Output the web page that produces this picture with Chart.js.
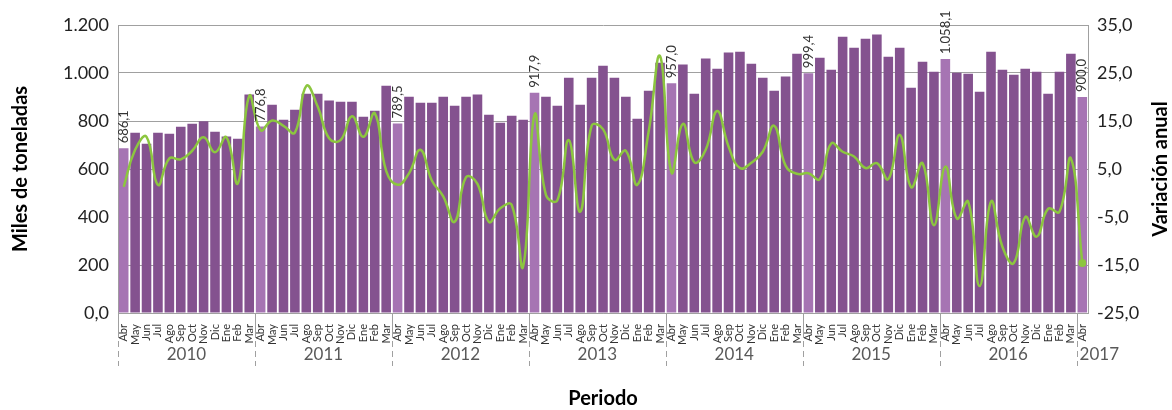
<!DOCTYPE html>
<html lang="es">
<head>
<meta charset="UTF-8">
<title>Miles de toneladas</title>
<script src="https://cdn.jsdelivr.net/npm/chart.js"></script>
<style>
  body { margin: 0; background: #fff; }
</style>
</head>
<body>
<canvas id="myChart" width="1172" height="410"></canvas>
<script>
const months = ['Abr','May','Jun','Jul','Ago','Sep','Oct','Nov','Dic','Ene','Feb','Mar']
const years = ['2010','2011','2012','2013','2014','2015','2016','2017']
const yearSpans = [12, 12, 12, 12, 12, 12, 12, 1]

// miles de toneladas, Abr 2010 .. Abr 2017
const tonnes = [
  686.1, 751, 705, 751, 747, 776, 789, 799, 755, 735, 726, 910,
  776.8, 868, 805, 847, 914, 914, 885, 880, 880, 818, 843, 947,
  789.5, 901, 876, 876, 901, 864, 901, 910, 826, 793, 822, 805,
  917.9, 901, 864, 980, 868, 980, 1030, 980, 901, 809, 926, 1043,
  957.0, 1035, 914, 1060, 1018, 1085, 1089, 1039, 980, 926, 985, 1080,
  999.4, 1064, 1014, 1151, 1105, 1143, 1160, 1068, 1105, 939, 1047, 1005,
  1058.1, 1001, 997, 922, 1089, 1014, 993, 1018, 1005, 914, 1005, 1080,
  900.0
]

// variación anual (%)
const variation = [
  1.3, 9.0, 11.7, 1.7, 7.2, 7.0, 8.8, 11.6, 8.5, 11.6, 2.0, 20.2,
  13.1, 15.1, 14.0, 12.6, 22.3, 18.0, 11.4, 11.0, 16.0, 11.7, 16.6, 4.6,
  1.7, 4.1, 9.0, 2.6, -0.7, -6.0, 3.3, 1.9, -6.0, -3.2, -2.5, -15.3,
  16.3, -0.4, -1.5, 11.0, -3.9, 14.0, 13.3, 6.9, 8.8, 1.7, 12.8, 28.5,
  4.3, 14.4, 6.4, 9.0, 17.1, 9.7, 5.2, 6.3, 8.6, 14.0, 5.7, 4.0,
  4.1, 2.9, 10.3, 8.6, 7.6, 5.2, 6.2, 2.9, 12.1, 1.2, 6.2, -6.7,
  5.5, -5.3, -1.8, -19.4, -1.8, -11.2, -14.6, -5.0, -9.1, -3.3, -3.9, 7.2,
  -14.6
]

const leftTicks = ['0,0', '200', '400', '600', '800', '1.000', '1.200']
const rightTicks = ['-25,0', '-15,0', '-5,0', '5,0', '15,0', '25,0', '35,0']

const labels = []
yearSpans.forEach(n => { for (let i = 0; i < n; i++) labels.push(months[i]) })

const FONT = 'Lato, "DejaVu Sans", sans-serif'
const dark = '#84528f'
const light = '#a674b3'
const green = '#8cc63f'
const fmt = v => v.toLocaleString('de-DE', { minimumFractionDigits: 1, maximumFractionDigits: 1 })

const extras = {
  id: 'extras',
  afterDatasetsDraw(chart) {
    const ctx = chart.ctx
    const meta = chart.getDatasetMeta(1)
    ctx.save()
    ctx.font = '13px ' + FONT
    ctx.fillStyle = '#333'
    ctx.textAlign = 'left'
    ctx.textBaseline = 'middle'
    meta.data.forEach((bar, i) => {
      if (labels[i] !== 'Abr') return
      ctx.save()
      ctx.translate(bar.x, bar.y - 5)
      ctx.rotate(-Math.PI / 2)
      ctx.fillText(fmt(tonnes[i]), 0, 0)
      ctx.restore()
    })
    ctx.restore()
  },
  afterDraw(chart) {
    const ctx = chart.ctx
    const x = chart.scales.x
    const area = chart.chartArea
    ctx.save()
    ctx.strokeStyle = '#a0a0a0'
    ctx.lineWidth = 1
    ctx.fillStyle = '#595959'
    ctx.font = '17px ' + FONT
    ctx.textBaseline = 'middle'
    let start = 0
    yearSpans.forEach((n, k) => {
      const left = start === 0 ? area.left : (x.getPixelForValue(start - 1) + x.getPixelForValue(start)) / 2
      const right = start + n >= labels.length ? area.right : (x.getPixelForValue(start + n - 1) + x.getPixelForValue(start + n)) / 2
      const sx = Math.round(left) + 0.5
      ctx.setLineDash([])
      ctx.beginPath()
      ctx.moveTo(sx, area.bottom)
      ctx.lineTo(sx, area.bottom + 25)
      ctx.stroke()
      ctx.setLineDash([6, 4])
      ctx.beginPath()
      ctx.moveTo(sx, area.bottom + 28)
      ctx.lineTo(sx, area.bottom + 53)
      ctx.stroke()
      const w = ctx.measureText(years[k]).width
      if (w + 6 > right - left) {
        ctx.textAlign = 'left'
        ctx.fillText(years[k], left + 3, area.bottom + 42)
      } else {
        ctx.textAlign = 'center'
        ctx.fillText(years[k], (left + right) / 2, area.bottom + 42)
      }
      start += n
    })
    // right axis title, reading upward
    ctx.setLineDash([])
    ctx.fillStyle = '#000'
    ctx.font = 'bold 20px ' + FONT
    ctx.textAlign = 'center'
    ctx.translate(1161, (area.top + area.bottom) / 2)
    ctx.rotate(-Math.PI / 2)
    ctx.fillText('Variación anual', 0, 0)
    ctx.restore()
  }
}

new Chart(document.getElementById('myChart'), {
  type: 'bar',
  data: {
    labels: labels,
    datasets: [{
      type: 'line',
      label: 'Variación anual',
      data: variation,
      yAxisID: 'y1',
      order: 0,
      borderColor: green,
      backgroundColor: green,
      borderWidth: 2.5,
      tension: 0.45,
      pointRadius: variation.map((v, i) => i === variation.length - 1 ? 4 : 0),
      pointBackgroundColor: green,
      pointBorderWidth: 0
    }, {
      type: 'bar',
      label: 'Miles de toneladas',
      data: tonnes,
      yAxisID: 'y',
      order: 1,
      backgroundColor: labels.map(m => m === 'Abr' ? light : dark),
      barPercentage: 0.84,
      categoryPercentage: 1
    }]
  },
  options: {
    responsive: false,
    devicePixelRatio: 1,
    animation: false,
    layout: { padding: { top: 25, left: 0, right: 0, bottom: 0 } },
    plugins: {
      legend: { display: false },
      tooltip: { enabled: false }
    },
    scales: {
      x: {
        grid: { display: false },
        border: { color: '#a0a0a0' },
        ticks: {
          autoSkip: false,
          minRotation: 90,
          maxRotation: 90,
          padding: 3,
          color: '#333',
          font: { family: FONT, size: 11 }
        },
        title: {
          display: true,
          text: 'Periodo',
          color: '#000',
          font: { family: FONT, size: 20, weight: 'bold', lineHeight: 1.1 },
          padding: { top: 0, bottom: 0 }
        },
        afterFit: s => { s.height = 97 }
      },
      y: {
        position: 'left',
        min: 0,
        max: 1200,
        ticks: {
          stepSize: 200,
          padding: 9,
          color: '#222',
          font: { family: FONT, size: 18 },
          callback: (v, i) => leftTicks[i]
        },
        grid: { color: '#a0a0a0', drawTicks: false },
        border: { color: '#a0a0a0' },
        title: {
          display: true,
          text: 'Miles de toneladas',
          color: '#000',
          font: { family: FONT, size: 20, weight: 'bold' },
          padding: { top: 9, bottom: 0 }
        },
        afterFit: s => { s.width = 118 }
      },
      y1: {
        position: 'right',
        min: -25,
        max: 35,
        ticks: {
          stepSize: 10,
          padding: 9,
          color: '#222',
          font: { family: FONT, size: 18 },
          callback: (v, i) => rightTicks[i]
        },
        grid: { drawOnChartArea: false, drawTicks: false },
        border: { color: '#a0a0a0' },
        afterFit: s => { s.width = 84 }
      }
    }
  },
  plugins: [extras]
})
</script>
</body>
</html>
